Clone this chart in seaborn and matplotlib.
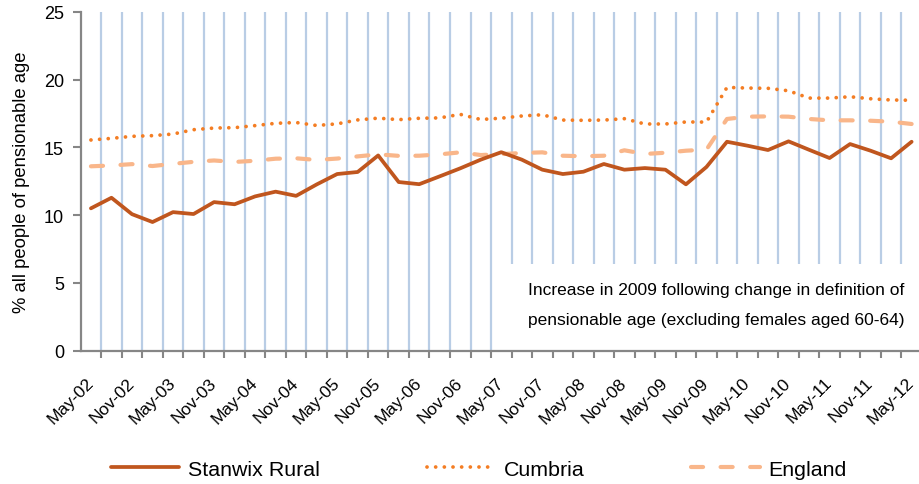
import numpy as np
import pandas as pd
import matplotlib
matplotlib.use("Agg")
import matplotlib.pyplot as plt
import seaborn as sns
from matplotlib.patches import Rectangle

# ---- data ----
months = []
for yr in range(2, 13):
    for m in ["May", "Aug", "Nov", "Feb"]:
        months.append(f"{m}-{yr:02d}" if m != "Feb" else f"Feb-{yr+1:02d}")
months = months[:41]

stanwix = [10.50, 11.28, 10.07, 9.49, 10.22, 10.08, 10.96, 10.80, 11.38, 11.73,
           11.42, 12.26, 13.03, 13.18, 14.40, 12.44, 12.28, 12.86, 13.45, 14.09,
           14.64, 14.09, 13.35, 13.03, 13.20, 13.77, 13.35, 13.47, 13.35, 12.27,
           13.55, 15.41, 15.12, 14.80, 15.44, 14.82, 14.21, 15.24, 14.75, 14.19, 15.41]
cumbria = [15.54, 15.66, 15.81, 15.86, 15.98, 16.30, 16.42, 16.45, 16.60, 16.77,
           16.83, 16.61, 16.73, 17.02, 17.15, 17.04, 17.14, 17.17, 17.43, 17.05,
           17.15, 17.31, 17.40, 17.01, 16.99, 17.01, 17.11, 16.72, 16.72, 16.87,
           16.86, 19.42, 19.37, 19.35, 19.17, 18.63, 18.63, 18.73, 18.58, 18.49, 18.47]
england = [13.60, 13.66, 13.76, 13.62, 13.78, 13.93, 14.03, 13.92, 14.01, 14.16,
           14.19, 14.07, 14.17, 14.33, 14.48, 14.37, 14.38, 14.48, 14.63, 14.43,
           14.50, 14.58, 14.63, 14.38, 14.34, 14.38, 14.78, 14.51, 14.60, 14.75,
           14.83, 17.09, 17.26, 17.28, 17.26, 17.09, 16.99, 16.99, 16.96, 16.89, 16.72]

series_names = ["Stanwix Rural", "Cumbria", "England"]
annotation = ["Increase in 2009 following change in definition of",
              "pensionable age (excluding females aged 60-64)"]

df = pd.DataFrame({"idx": np.arange(len(months)), "month": months,
                   "Stanwix Rural": stanwix, "Cumbria": cumbria, "England": england})

sns.set_theme(style="white")
plt.rcParams["font.family"] = ["Liberation Sans", "DejaVu Sans"]
plt.rcParams["text.color"] = "black"
plt.rcParams["xtick.color"] = "black"
plt.rcParams["ytick.color"] = "black"
plt.rcParams["axes.labelcolor"] = "black"

fig = plt.figure(figsize=(9.19, 4.85), dpi=100)
ax = fig.add_axes([0.0878, 0.2748, 0.9122, 0.6990])

c_stan = "#C0561E"
c_cumb = "#F47D23"
c_eng = "#F9B68A"

sns.lineplot(data=df, x="idx", y="Stanwix Rural", ax=ax, color=c_stan, lw=2.7,
             label=series_names[0], zorder=5, solid_joinstyle="round", solid_capstyle="round")
l2 = sns.lineplot(data=df, x="idx", y="Cumbria", ax=ax, color=c_cumb, lw=2.7,
                  label=series_names[1], zorder=4).lines[-1]
l2.set_linestyle((0, (0.01, 2.3)))
l2.set_dash_capstyle("round")
l3 = sns.lineplot(data=df, x="idx", y="England", ax=ax, color=c_eng, lw=3.0,
                  label=series_names[2], zorder=3).lines[-1]
l3.set_linestyle((0, (2.9, 4.2)))
l3.set_dash_capstyle("round")

n = len(months)
ax.set_xlim(-0.5, n - 1 + 0.36)
ax.set_ylim(0, 25)
ax.set_yticks(np.arange(0, 26, 5))

# category boundary gridlines + ticks
bounds = np.arange(0.5, n - 0.5, 1.0)
ax.set_xticks(bounds, minor=True)
ax.set_xticks(np.arange(0, n, 2))
ax.set_xticklabels([months[i] for i in range(0, n, 2)], rotation=45, ha="right", va="center",
                   rotation_mode="anchor", fontsize=12.6)
ax.tick_params(axis="x", which="major", length=0, pad=21)
ax.tick_params(axis="x", which="minor", length=5, width=1.5, color="#868686", direction="out")
ax.tick_params(axis="y", length=6, width=1.5, color="#868686", direction="out", labelsize=13,
               pad=6, labelcolor="black")
ax.tick_params(axis="x", labelcolor="black")
ax.xaxis.set_ticks_position("bottom")
ax.yaxis.set_ticks_position("left")
ax.grid(False)
ax.grid(True, axis="x", which="minor", color="#B9CDE5", lw=1.6, zorder=0)
ax.set_axisbelow(True)

for s in ["top", "right"]:
    ax.spines[s].set_visible(False)
for s in ["left", "bottom"]:
    ax.spines[s].set_color("#868686")
    ax.spines[s].set_linewidth(1.6)
    ax.spines[s].set_zorder(6)

ax.set_xlabel("")
ax.set_ylabel("% all people of pensionable age", fontsize=13.3, labelpad=10, color="black")

# white annotation box over gridlines
ax.add_patch(Rectangle((19.62, 0.05), 30, 6.35, facecolor="white", edgecolor="none",
                       zorder=2))
ax.text(21.3, 4.55, annotation[0], fontsize=12.5, va="center", ha="left", zorder=7,
        color="black")
ax.text(21.3, 2.3, annotation[1], fontsize=12.5, va="center", ha="left", zorder=7,
        color="black")

leg = ax.legend(loc="center", ncol=3, frameon=False, fontsize=15.4,
                handlelength=3.2, columnspacing=5.0, handletextpad=0.4)
leg.set_bbox_to_anchor((0.521, 0.03), transform=fig.transFigure)
for t in leg.get_texts():
    t.set_color("black")

fig.savefig("out.png", dpi=100)
